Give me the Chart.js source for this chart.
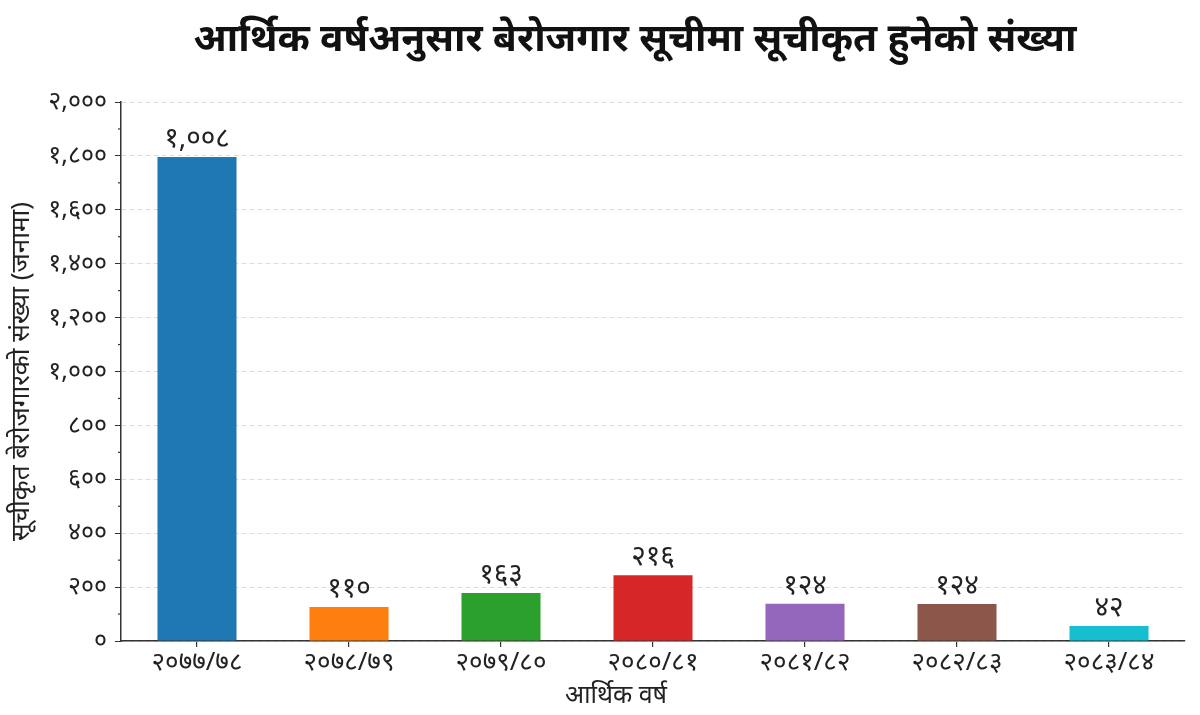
<!DOCTYPE html>
<html>
<head>
<meta charset="utf-8">
<script src="https://cdn.jsdelivr.net/npm/chart.js@4"></script>
<style>
  html, body { margin: 0; padding: 0; background: #fff; }
  #wrap { width: 1200px; height: 715px; }
</style>
</head>
<body>
<div id="wrap"><canvas id="chart" width="1200" height="715"></canvas></div>
<script>
const categories = ['२०७७/७८', '२०७८/७९', '२०७९/८०', '२०८०/८१', '२०८१/८२', '२०८२/८३', '२०८३/८४'];
const barValues = [1796, 126, 178, 244, 138, 137, 56];
const barLabels = ['१,००८', '११०', '१६३', '२१६', '१२४', '१२४', '४२'];
const barColors = ['#1f77b4', '#ff7f0e', '#2ca02c', '#d62728', '#9467bd', '#8c564b', '#17becf'];

const FONT = "'Noto Sans', 'Noto Sans Devanagari', sans-serif";
const TITLE = 'आर्थिक वर्षअनुसार बेरोजगार सूचीमा सूचीकृत हुनेको संख्या';
const X_TITLE = 'आर्थिक वर्ष';

function toNepali(n) {
    const digits = '०१२३४५६७८९';
    return n.toLocaleString('en-US').replace(/[0-9]/g, d => digits[d]);
}

// small ticks between the labelled ones
const minorTicksPlugin = {
    id: 'minorTicks',
    afterDraw(chart) {
        const { ctx, scales } = chart;
        const y = scales.y;
        ctx.save();
        ctx.strokeStyle = '#333';
        ctx.lineWidth = 1.2;
        for (let v = 100; v < 2000; v += 200) {
            const py = y.getPixelForValue(v);
            ctx.beginPath();
            ctx.moveTo(y.right - 3, py);
            ctx.lineTo(y.right, py);
            ctx.stroke();
        }
        ctx.restore();
    }
};

const barLabelPlugin = {
    id: 'barLabels',
    afterDatasetsDraw(chart) {
        const { ctx } = chart;
        const meta = chart.getDatasetMeta(0);
        ctx.save();
        ctx.fillStyle = '#222';
        ctx.font = '28px ' + FONT;
        ctx.textAlign = 'center';
        ctx.textBaseline = 'bottom';
        meta.data.forEach((bar, i) => {
            ctx.fillText(barLabels[i], bar.x, bar.y - 4);
        });
        ctx.restore();
    }
};

// titles drawn by hand, both sit a little left of the plot centre
const titlePlugin = {
    id: 'bigTitle',
    afterDraw(chart) {
        const { ctx, chartArea } = chart;
        const mid = (chartArea.left + chartArea.right) / 2;
        ctx.save();
        ctx.textAlign = 'center';
        ctx.textBaseline = 'middle';
        ctx.fillStyle = '#111';
        ctx.font = 'bold 39px ' + FONT;
        ctx.fillText(TITLE, mid - 18, 40);
        ctx.fillStyle = '#222';
        ctx.font = '25px ' + FONT;
        ctx.fillText(X_TITLE, mid - 37, 696);
        ctx.restore();
    }
};

new Chart(document.getElementById('chart').getContext('2d'), {
    type: 'bar',
    data: {
        labels: categories,
        datasets: [{
            data: barValues,
            backgroundColor: barColors,
            barPercentage: 0.52,
            categoryPercentage: 1,
        }]
    },
    options: {
        responsive: false,
        animation: false,
        devicePixelRatio: 1,
        layout: {
            padding: { left: 0, right: 15, top: 102, bottom: 0 }
        },
        plugins: {
            legend: { display: false },
            tooltip: { enabled: false },
            title: { display: false },
        },
        scales: {
            x: {
                afterFit: s => { s.height = 74; },
                grid: {
                    display: true,
                    offset: false,
                    drawOnChartArea: false,
                    drawTicks: true,
                    tickLength: 6,
                    color: '#333',
                    lineWidth: 1.2,
                },
                border: { color: '#333', width: 1.5 },
                ticks: {
                    color: '#222',
                    font: { family: FONT, size: 26 },
                    padding: 0,
                },
            },
            y: {
                min: 0,
                max: 2000,
                afterFit: s => { s.width = 121; },
                ticks: {
                    stepSize: 200,
                    color: '#222',
                    font: { family: FONT, size: 25 },
                    padding: 8,
                    callback: v => toNepali(v),
                },
                grid: {
                    color: '#dcdcdc',
                    lineWidth: 1,
                    tickColor: '#333',
                    tickLength: 6,
                    tickBorderDash: [],
                },
                border: { color: '#333', width: 1.5, dash: [5, 3] },
                title: {
                    display: true,
                    text: 'सूचीकृत बेरोजगारको संख्या (जनामा)',
                    color: '#222',
                    font: { family: FONT, size: 26 },
                    padding: { top: 6, bottom: 0 },
                },
            },
        },
    },
    plugins: [minorTicksPlugin, barLabelPlugin, titlePlugin],
});
</script>
</body>
</html>
